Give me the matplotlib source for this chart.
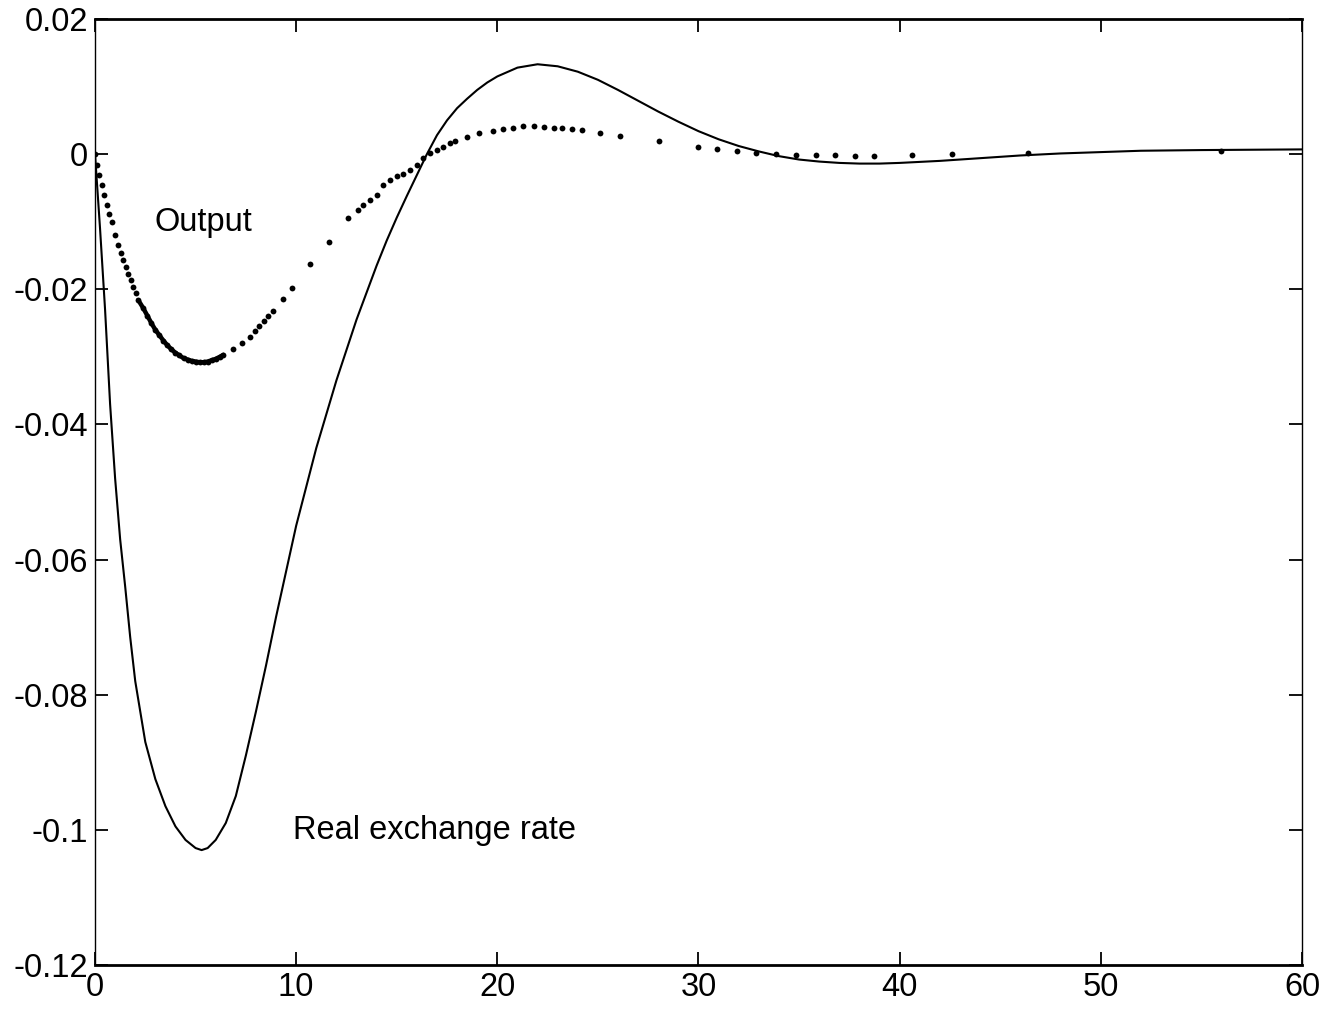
import matplotlib
matplotlib.use("Agg")
import matplotlib.pyplot as plt

# Real exchange rate (solid line)
rer_x = [0, 0.25, 0.5, 0.75, 1.0, 1.25, 1.5, 1.75, 2.0, 2.5, 3.0, 3.5, 4.0, 4.5, 5.0,
         5.3, 5.6, 6.0, 6.5, 7.0, 7.5, 8.0, 8.5, 9.0, 10.0, 11.0, 12.0, 12.5, 13.0,
         13.5, 14.0, 14.5, 15.0, 15.5, 16.0, 16.5, 17.0, 17.5, 18.0, 18.5, 19.0,
         19.5, 20.0, 21.0, 22.0, 23.0, 24.0, 25.0, 26.0, 27.0, 28.0, 29.0, 30.0,
         31.0, 32.0, 33.0, 34.0, 35.0, 36.0, 37.0, 38.0, 39.0, 40.0, 42.0, 44.0,
         46.0, 48.0, 50.0, 52.0, 55.0, 60.0]
rer_y = [0, -0.011, -0.023, -0.037, -0.048, -0.057, -0.064, -0.0715, -0.078, -0.087,
         -0.0925, -0.0965, -0.0995, -0.1015, -0.1027,
         -0.103, -0.1027, -0.1015, -0.0990, -0.0950, -0.0890, -0.0825, -0.0757,
         -0.0685, -0.0550, -0.0435, -0.0335, -0.0290, -0.0245,
         -0.0205, -0.0165, -0.0128, -0.0094, -0.0062, -0.0031, 0.0, 0.0028,
         0.0050, 0.0068, 0.0082, 0.0095,
         0.0106, 0.0115, 0.0128, 0.0133, 0.0130, 0.0122, 0.0110, 0.0095, 0.0079,
         0.0063, 0.0048, 0.0034,
         0.0022, 0.0012, 0.0004, -0.0003, -0.0008, -0.0011, -0.0013, -0.0014,
         -0.0014, -0.0013, -0.0010, -0.0006,
         -0.0002, 0.0001, 0.0003, 0.0005, 0.0006, 0.0007]

# Output (dotted line, dot positions)
out_x = [0, 0.08, 0.21, 0.33, 0.45, 0.58, 0.70, 0.83, 1.0, 1.16, 1.29, 1.41, 1.54,
         1.66, 1.77, 1.90, 2.02, 2.15, 2.4, 2.6, 2.8, 3.0, 3.2, 3.4, 3.6, 3.8,
         4.0, 4.2, 4.4, 4.6, 4.8, 5.0, 5.2, 5.4, 5.6, 5.8, 6.0, 6.2, 6.38, 6.87,
         7.29, 7.70, 7.95, 8.17, 8.40, 8.62, 8.83, 9.33, 9.79, 10.70, 11.65,
         12.60, 13.08, 13.33, 13.67, 14.0, 14.33, 14.66, 15.0, 15.33, 15.66, 16.0,
         16.3, 16.65, 17.0, 17.3, 17.64, 17.9, 18.5, 19.1, 19.8, 20.3, 20.8,
         21.3, 21.8, 22.3, 22.8, 23.2, 23.7, 24.2, 25.1, 26.1, 28.05, 29.98,
         30.93, 31.92, 32.85, 33.83, 34.84, 35.82, 36.78, 37.77, 38.72, 40.63,
         42.58, 46.36, 56.0]
out_y = [0, -0.0016, -0.0031, -0.0046, -0.0060, -0.0075, -0.0088, -0.0100, -0.0120,
         -0.0135, -0.0147, -0.0157, -0.0167, -0.0177, -0.0187, -0.0197, -0.0206,
         -0.0216, -0.0228, -0.0239, -0.0250, -0.0260, -0.0268, -0.0276, -0.0283,
         -0.0289, -0.0294, -0.0298, -0.0302, -0.0304, -0.0306, -0.0307, -0.0308,
         -0.0308, -0.0307, -0.0305, -0.0303, -0.0300, -0.0297, -0.0288,
         -0.0280, -0.0271, -0.0262, -0.0255, -0.0247, -0.0239, -0.0232, -0.0215,
         -0.0198, -0.0163, -0.0130,
         -0.0095, -0.0083, -0.0076, -0.0068, -0.0061, -0.0046, -0.0039, -0.0033,
         -0.0029, -0.0023, -0.0016,
         -0.0006, 0.0001, 0.0006, 0.0011, 0.0016, 0.0019, 0.0026, 0.0031, 0.0034,
         0.0037, 0.0039,
         0.0041, 0.0041, 0.0040, 0.0039, 0.0038, 0.0037, 0.0035, 0.0032, 0.0027,
         0.0019, 0.0011,
         0.0007, 0.0004, 0.0002, 0.0, -0.0001, -0.0001, -0.0002, -0.0003, -0.0003,
         -0.0001,
         0.0, 0.0002, 0.0004]

x_ticks = [0, 10, 20, 30, 40, 50, 60]
y_ticks = [-0.12, -0.10, -0.08, -0.06, -0.04, -0.02, 0.0, 0.02]
y_tick_labels = ["-0.12", "-0.1", "-0.08", "-0.06", "-0.04", "-0.02", "0", "0.02"]

plt.rcParams['font.family'] = ['Liberation Sans', 'DejaVu Sans']

fig = plt.figure(figsize=(13.4, 10.1), dpi=100)
ax = fig.add_axes([0.0709, 0.0446, 0.9007, 0.9366])

ax.plot(rer_x, rer_y, color='black', linewidth=1.5, solid_capstyle='round',
        solid_joinstyle='round')
# dense part of the dotted output curve merges into a thick stroke
dense_lo, dense_hi = 17, 39
ax.plot(out_x[dense_lo:dense_hi], out_y[dense_lo:dense_hi], color='black',
        linewidth=3.2, solid_capstyle='round')
ax.plot(out_x, out_y, linestyle='none', marker='o', markersize=4.2,
        color='black', markeredgewidth=0)

ax.set_xlim(0, 60)
ax.set_ylim(-0.12, 0.02)
ax.set_xticks(x_ticks)
ax.set_xticklabels([str(t) for t in x_ticks])
ax.set_yticks(y_ticks)
ax.set_yticklabels(y_tick_labels)
ax.tick_params(direction='in', length=9.5, width=1.3, labelsize=23.5,
               top=True, right=True, pad=5)

for side in ['top', 'bottom']:
    ax.spines[side].set_linewidth(2.0)
ax.spines['left'].set_linewidth(1.0)
ax.spines['right'].set_linewidth(1.0)

ax.text(2.98, -0.0101, "Output", fontsize=23.5, ha='left', va='center')
ax.text(9.85, -0.1001, "Real exchange rate", fontsize=23.5, ha='left', va='center')

fig.savefig("out.png", dpi=100)
